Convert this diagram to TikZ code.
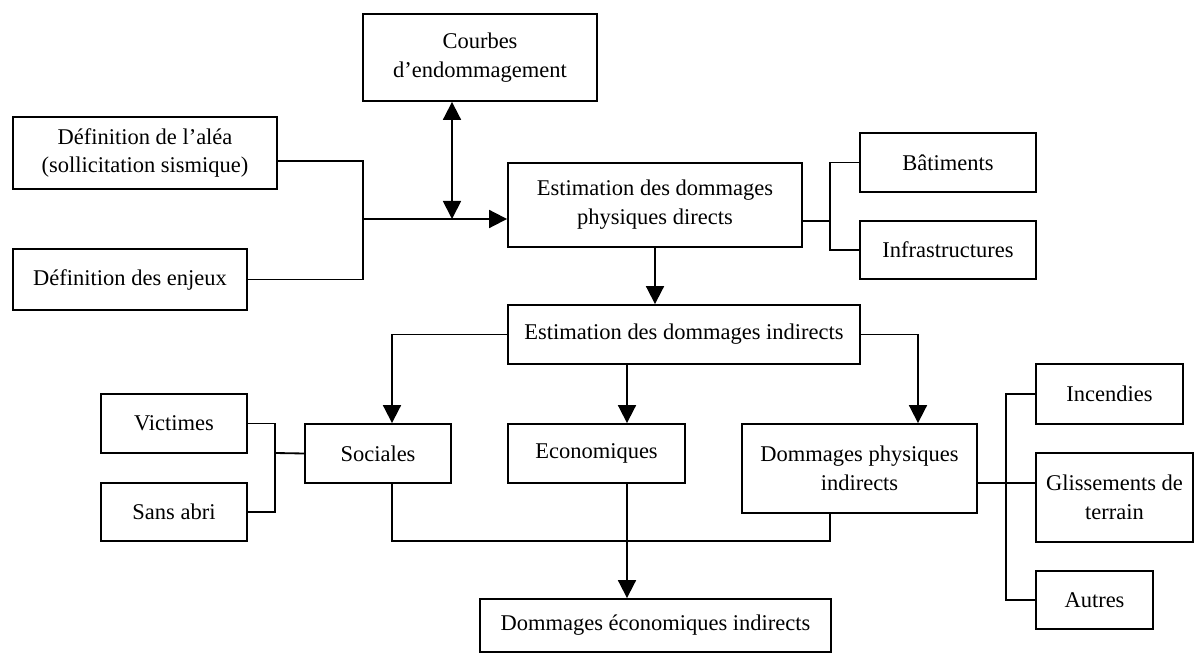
\documentclass[tikz,border=0pt]{standalone}
\usepackage{fontspec}
\setmainfont{Liberation Serif}
\usetikzlibrary{arrows.meta}

\begin{document}
\begin{tikzpicture}[x=0.25mm,y=-0.25mm]
\tikzstyle{box}=[rectangle, draw=black, line width=1.3pt, align=center, inner sep=0pt, font=\fontsize{16}{20.5}\selectfont]
\tikzstyle{line}=[line width=1.3pt]
\tikzstyle{connect}=[-{Triangle[length=4.5mm,width=4.5mm]}, line width=1.3pt]
\tikzstyle{both}=[{Triangle[length=4.5mm,width=4.5mm]}-{Triangle[length=4.5mm,width=4.5mm]}, line width=1.3pt]
\useasboundingbox (0,0) rectangle (1200,655);
	\node[box, minimum width=58.5mm, minimum height=21.75mm] (courbes) at (480,57.5) {Courbes\\d'endommagement};
	\node[box, minimum width=66mm, minimum height=18mm] (alea) at (145,153) {Définition de l'aléa\\(sollicitation sismique)};
	\node[box, minimum width=58.5mm, minimum height=15.25mm] (enjeux) at (130,279.5) {Définition des enjeux};
	\node[box, minimum width=73.5mm, minimum height=21mm] (epd) at (655,205) {Estimation des dommages\\physiques directs};
	\node[box, minimum width=44mm, minimum height=14.75mm] (bat) at (948,162.5) {Bâtiments};
	\node[box, minimum width=44mm, minimum height=14.5mm] (infra) at (948,250) {Infrastructures};
	\node[box, minimum width=88mm, minimum height=14.75mm] (eind) at (684,334.5) {Estimation des dommages indirects};
	\node[box, minimum width=36.5mm, minimum height=14.75mm] (vict) at (174,423.5) {Victimes};
	\node[box, minimum width=36.5mm, minimum height=14.5mm] (sans) at (174,512) {Sans abri};
	\node[box, minimum width=36.5mm, minimum height=14.75mm] (soc) at (378,453.5) {Sociales};
	\node[box, minimum width=44.25mm, minimum height=14.75mm] (eco) at (596.5,453.5) {Economiques};
	\node[box, minimum width=58.75mm, minimum height=22.25mm] (dpi) at (859.5,468.5) {Dommages physiques\\indirects};
	\node[box, minimum width=36.75mm, minimum height=15mm] (inc) at (1109.5,394) {Incendies};
	\node[box, minimum width=39.25mm, minimum height=22.25mm] (gliss) at (1114.5,497.5) {Glissements de\\terrain};
	\node[box, minimum width=29.25mm, minimum height=14.5mm] (autres) at (1094.5,600) {Autres};
	\node[box, minimum width=87.75mm, minimum height=13.25mm] (dei) at (655.5,625.5) {Dommages économiques indirects};

	\coordinate (j_1) at (363,161);
	\coordinate (j_2) at (363,219);
	\coordinate (j_3) at (452,219);
	\coordinate (j_4) at (830,221);
	\coordinate (j_5) at (392,336);
	\coordinate (j_6) at (627,336);
	\coordinate (j_7) at (918,336);
	\coordinate (j_8) at (275,453);
	\coordinate (j_9) at (830,541);
	\coordinate (j_10) at (1006,483);

	\draw[line] (alea.east |- j_1) -- (j_1) -- (j_1 |- enjeux.east) -- (enjeux.east);
	\draw[connect] (j_2) -- (j_2 -| epd.west);
	\draw[both] (courbes.south -| j_3) -- (j_3);
	\draw[connect] (epd.south) -- (eind.north -| epd.south);
	\draw[line] (epd.east |- j_4) -- (j_4);
	\draw[line] (bat.west) -| (j_4) |- (infra.west);
	\draw[connect] (eind.west) -| (j_5 |- soc.north);
	\draw[connect] (eind.south -| j_6) -- (eco.north -| j_6);
	\draw[connect] (eind.east) -| (j_7 |- dpi.north);
	\draw[line] (vict.east) -| (j_8) |- (sans.east);
	\draw[line] (j_8) -- (soc.west);
	\draw[line] (j_5 |- soc.south) |- (j_9) -- (j_9 |- dpi.south);
	\draw[connect] (eco.south -| j_6) -- (dei.north -| j_6);
	\draw[line] (dpi.east |- j_10) -- (gliss.west |- j_10);
	\draw[line] (inc.west) -| (j_10) |- (autres.west);

\end{tikzpicture}
\end{document}
